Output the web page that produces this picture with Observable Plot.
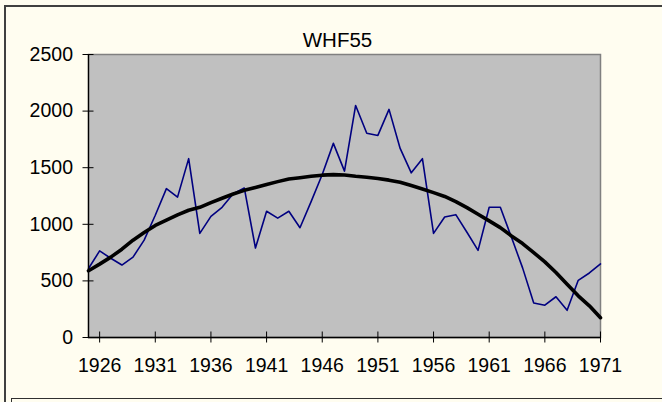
<!DOCTYPE html>
<html>
<head>
<meta charset="utf-8">
<script src="https://cdn.jsdelivr.net/npm/d3@7"></script>
<script src="https://cdn.jsdelivr.net/npm/@observablehq/plot@0.6"></script>
<style>
  html, body { margin: 0; padding: 0; background: #FFFDF0; overflow: hidden; }
  #wrap { position: relative; width: 662px; height: 402px; }
  #wrap svg { position: absolute; left: 0; top: 0; }
  .outer { position: absolute; left: 4px; top: 5px; width: 700px; height: 500px;
           border-top: 2px solid #404040; border-left: 2px solid #404040; pointer-events: none; }
  .nextbox { position: absolute; left: 11px; top: 398px; width: 700px; height: 50px;
             border-top: 1.5px solid #303030; border-left: 1.5px solid #303030; pointer-events: none; }
</style>
</head>
<body>
<div id="wrap"></div>
<script>
const title = "WHF55";
const years = [1925,1926,1927,1928,1929,1930,1931,1932,1933,1934,1935,1936,1937,1938,1939,1940,
  1941,1942,1943,1944,1945,1946,1947,1948,1949,1950,1951,1952,1953,1954,1955,1956,1957,1958,
  1959,1960,1961,1962,1963,1964,1965,1966,1967,1968,1969,1970,1971];
const values = [610,765,700,640,710,860,1080,1315,1240,1580,920,1070,1150,1270,1320,790,
  1115,1055,1115,970,1200,1440,1715,1470,2050,1805,1785,2015,1670,1455,1580,920,1065,1085,
  930,770,1150,1150,885,615,305,285,360,240,505,570,650];
const trend = [590,648,710,780,860,927,990,1036,1083,1124,1150,1192,1230,1268,1300,1325,
  1352,1377,1400,1412,1424,1434,1439,1436,1424,1416,1405,1390,1371,1342,1312,1280,1246,1200,
  1147,1089,1030,971,897,830,750,668,574,471,368,280,175];
const xTicks = [1926,1931,1936,1941,1946,1951,1956,1961,1966,1971];
const yTicks = [0,500,1000,1500,2000,2500];

const data = years.map((y, i) => ({year: y, value: values[i], trend: trend[i]}));

const chart = Plot.plot({
  width: 662,
  height: 402,
  marginLeft: 88,
  marginRight: 62,
  marginTop: 54,
  marginBottom: 65,
  style: {background: "transparent", fontFamily: "'Liberation Sans', Arial, sans-serif", fontSize: "19.5px", color: "black"},
  x: {domain: [1925, 1971]},
  y: {domain: [0, 2500]},
  marks: [
    Plot.frame({fill: "#C0C0C0", stroke: "#808080", strokeWidth: 1.5}),
    Plot.line(data, {x: "year", y: "value", stroke: "#000080", strokeWidth: 1.6}),
    Plot.line(data, {x: "year", y: "trend", stroke: "black", strokeWidth: 3.6}),
    Plot.ruleX([1925], {stroke: "black", strokeWidth: 1.3}),
    Plot.ruleY([0], {stroke: "black", strokeWidth: 1.3}),
    Plot.axisY(yTicks, {tickSize: 11, dx: 5.5, tickFormat: () => "", stroke: "black", label: null}),
    Plot.axisY(yTicks, {tickSize: 0, tickPadding: 15.5, tickFormat: d => String(d), fontSize: 19.5, label: null}),
    Plot.axisX(xTicks, {tickSize: 11, dy: -5.5, tickFormat: () => "", stroke: "black", label: null}),
    Plot.axisX(xTicks, {tickSize: 0, tickPadding: 21, tickFormat: d => String(d), fontSize: 19.5, label: null}),
    Plot.text([title], {frameAnchor: "top", lineAnchor: "middle", dy: -14.5, dx: -7, fontSize: 20.5, fill: "black"})
  ]
});

const wrap = document.getElementById("wrap");
wrap.appendChild(chart);
const outer = document.createElement("div"); outer.className = "outer"; wrap.appendChild(outer);
const nb = document.createElement("div"); nb.className = "nextbox"; wrap.appendChild(nb);
</script>
</body>
</html>
